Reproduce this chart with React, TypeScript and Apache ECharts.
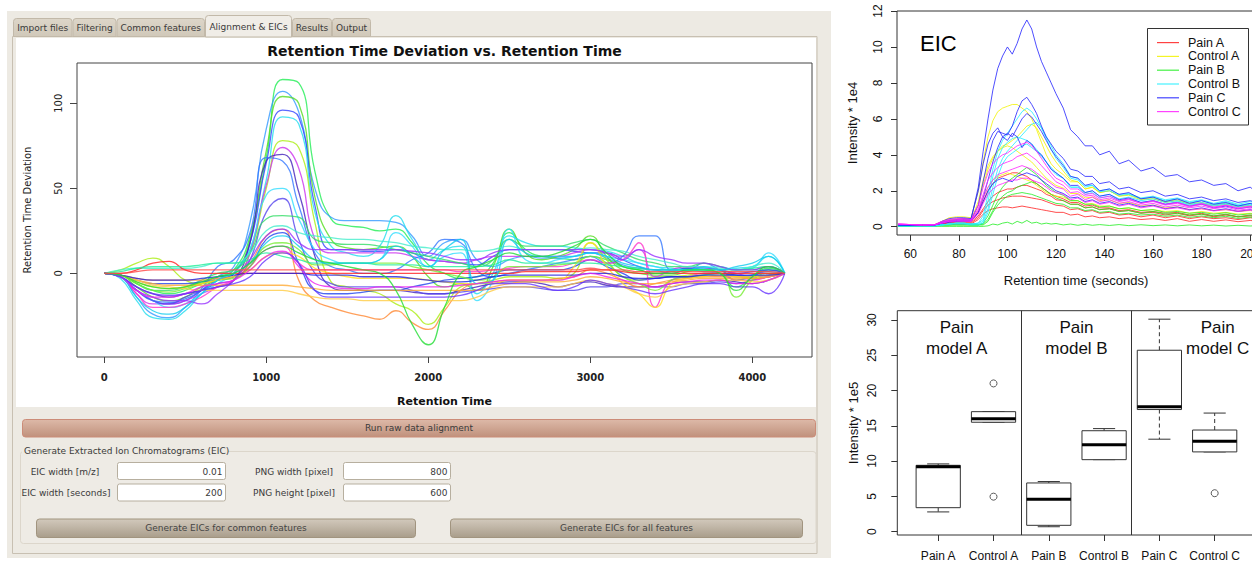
import React, { useEffect, useRef } from "react";
import * as echarts from "echarts";

// ---------------- Left chart: retention time deviation ----------------
const RT_X = [0,100,200,300,400,500,600,700,800,900,1000,1100,1200,1300,1400,1500,1600,1700,1800,1900,2000,2100,2200,2300,2400,2500,2600,2700,2800,2900,3000,3100,3200,3300,3400,3500,3600,3700,3800,3900,4000,4100,4200];
const RT_X_TICKS = [0, 1000, 2000, 3000, 4000];
const RT_Y_TICKS = [0, 50, 100];

const RT_DEVIATIONS: number[][] = [
  [0,-1,-6,-10,-12,-10,-6,-2,2,22,68,114,112,60,32,28,27,25,26,18,5,0,-3,-2,6,24,14,10,9,8,10,8,4,2,0,1,3,2,0,-8,-2,3,0],
  [0,-2,-14,-24,-26,-20,-10,-2,4,30,85,107,95,50,33,31,31,31,30,22,10,18,20,8,4,8,10,9,9,10,12,9,5,3,2,0,2,1,0,-4,-2,2,0],
  [0,-1,-8,-14,-16,-14,-8,-4,0,20,72,104,100,45,20,15,14,15,16,10,-2,-8,-6,-10,4,26,12,8,10,14,22,10,2,0,-1,-1,1,3,2,-4,-1,2,0],
  [0,-2,-10,-16,-18,-16,-10,-4,0,18,65,96,92,40,14,14,13,13,14,12,8,7,6,5,10,14,14,14,14,13,12,12,8,4,2,2,3,3,2,0,1,2,0],
  [0,-3,-16,-26,-27,-22,-12,-4,2,14,55,92,88,36,16,12,10,16,34,20,8,14,16,-12,0,22,18,16,16,15,14,13,10,6,4,3,2,2,2,3,4,10,0],
  [0,2,6,9,4,-4,-6,-4,-2,12,50,78,74,30,-5,-8,-10,-12,-18,-22,-30,-20,-8,-6,-4,-2,-2,-2,-3,0,18,8,-2,-4,-2,-2,-1,0,0,-1,-3,-2,0],
  [0,-2,-12,-18,-18,-16,-12,-8,-4,12,52,74,62,20,12,12,12,12,12,10,8,7,6,8,10,10,10,10,10,12,14,12,10,14,-2,2,4,3,2,0,-2,-1,0],
  [0,-2,-8,-12,-14,-12,-10,-8,-4,18,66,70,48,10,-8,-10,-10,-10,-10,-11,-12,-12,-10,-8,-6,-5,-5,-6,-8,-6,-5,-7,-8,-8,-8,-6,-5,-5,-4,-5,-6,-4,0],
  [0,-2,-10,-16,-17,-15,-9,4,8,24,68,66,40,12,4,2,0,0,2,8,12,20,18,2,-2,0,2,4,6,8,10,6,10,22,22,2,2,6,2,-2,-1,1,0],
  [0,-2,-10,-16,-20,-18,-12,-6,0,14,46,50,32,14,8,6,6,8,24,16,4,10,12,-16,-4,26,8,6,8,10,12,10,8,6,4,2,2,3,4,2,3,12,0],
  [0,-2,-10,-16,-18,-14,-10,-6,-4,8,36,44,20,0,-6,-8,-8,-8,-8,-10,-12,-12,-11,-10,-9,-8,-8,-9,-10,-10,-8,-8,-6,-6,-8,-8,-6,-6,-5,-6,-4,-2,0],
  [0,-1,-6,-10,-10,-8,-4,0,2,12,32,34,33,20,18,17,17,16,14,12,10,8,6,4,8,20,16,16,16,18,20,16,12,8,6,4,4,6,4,2,2,4,0],
  [0,2,3,3,3,3,4,6,6,12,25,28,24,22,21,20,20,19,18,16,15,14,14,13,14,16,14,14,14,14,15,14,13,10,8,6,4,4,3,2,4,6,0],
  [0,-1,-3,-4,-4,-4,-4,-3,-2,6,22,26,-4,-16,-20,-23,-25,-27,-22,-29,-33,-22,-10,-6,-5,-4,-4,-4,-3,-2,2,0,-4,-8,-6,-4,-3,-2,-2,-2,-3,-2,0],
  [0,-1,-4,-6,-6,-6,-5,-4,-2,4,20,24,6,-10,-12,-12,-11,-10,-10,-8,-6,-4,-3,-2,0,2,2,2,2,4,8,4,0,-4,-3,-2,-2,-1,0,-1,-2,-1,0],
  [0,-2,-12,-20,-20,-18,-14,-8,-4,4,14,16,6,2,2,2,2,2,2,2,2,2,1,1,2,3,4,4,4,6,8,6,8,18,-20,-4,-2,0,0,-4,-4,-2,0],
  [0,-1,-6,-10,-11,-9,-6,-4,-3,4,16,18,14,5,5,6,6,6,6,4,2,0,-2,-4,-2,4,4,4,5,6,10,6,-2,-6,-10,-4,-2,-1,0,-14,-4,0,0],
  [0,-1,-5,-8,-9,-8,-6,-4,-2,2,10,12,10,3,0,-2,-3,-3,-3,-3,-4,-5,-6,-6,-6,-4,-4,-4,-4,4,18,4,-6,-12,-20,-6,-3,-2,-1,-2,-2,-1,0],
  [0,0,2,6,7,2,0,0,0,0,0,0,0,0,0,0,0,0,0,0,0,0,0,0,0,0,1,1,1,1,2,2,1,0,0,0,0,0,0,0,0,0,0],
  [0,-1,-4,-6,-7,-7,-7,-7,-7,-7,-7,-7,-8,-9,-10,-10,-10,-10,-10,-10,-10,-10,-10,-10,-8,-6,-5,-5,-5,-4,-2,-3,-5,-6,-6,-5,-4,-3,-3,-3,-3,-2,0],
  [0,-1,-4,-7,-8,-9,-10,-10,-10,-10,-10,-10,-12,-14,-15,-15,-16,-16,-16,-16,-16,-16,-16,-14,-10,-8,-8,-8,-8,-6,-4,-6,-8,-12,-14,-8,-6,-5,-4,-4,-5,-4,0],
  [0,1,3,4,4,4,5,6,6,8,12,10,8,6,6,6,6,5,5,5,4,4,4,4,5,8,6,6,6,6,6,5,4,3,2,2,2,2,2,2,3,4,0],
  [0,-2,-10,-14,-16,-16,-18,-12,-4,8,22,26,18,14,14,14,14,14,14,13,12,10,8,8,12,14,14,14,14,14,14,12,8,14,10,8,6,6,4,2,2,4,0],
  [0,-1,-3,-4,-4,-4,-3,-2,-1,0,0,0,0,-1,-1,-1,-2,-2,-2,-3,-4,-5,-5,-4,-2,-1,-1,-1,-1,-1,0,0,-2,-3,-3,-2,-2,-1,-1,-1,-1,-1,0],
  [0,-2,-14,-22,-24,-20,-12,-4,0,6,18,22,16,8,6,6,6,8,16,10,4,14,20,-6,-4,20,12,10,10,10,12,10,6,4,2,2,2,4,2,4,6,10,0],
  [0,-2,-10,-14,-14,-12,-8,-6,-4,2,10,13,4,-6,-8,-9,-9,-8,-8,-8,-8,-8,-7,-6,-5,-4,-4,-4,-4,-2,0,-2,-4,-6,-8,-6,-5,-4,-4,-6,-6,-4,0],
  [0,-2,-8,-12,-13,-12,-10,-8,-6,-2,8,12,6,-10,-14,-14,-14,-14,-14,-14,-14,-14,-13,-10,-6,-6,-6,-8,-10,-8,-4,-6,-8,-10,-12,-10,-8,-6,-6,-8,-8,-12,0],
  [0,-1,-5,-8,-9,-8,-5,-2,0,6,14,16,12,8,6,4,2,0,-10,-30,-42,-20,0,4,8,12,10,10,12,16,20,12,4,2,0,0,2,2,0,-10,-2,4,0],
  [0,0,1,2,2,2,2,2,2,2,2,2,2,2,2,2,2,2,2,2,2,2,2,2,2,2,2,2,2,2,3,2,2,1,1,1,1,1,1,1,1,1,0],
];
const RT_COLORS = ["#22EE55","#3399FF","#55DD22","#3344FF","#22DDEE","#AAEE11","#CC33EE","#4422BB","#3377FF","#33DDFF","#5544EE","#33DD66","#44EECC","#FF8833","#2244EE","#FF33CC","#77EE33","#FFDD22","#FF2222","#FFAA33","#FFCC44","#22EE99","#9933FF","#2222DD","#11CCEE","#EE22EE","#6633FF","#22DD33","#FF4444"];

// ---------------- EIC chart ----------------
const EIC_X = [55,60,65,70,73,76,79,82,85,88,90,92,94,96,98,100,102,104,106,108,110,112,114,116,118,120,123,126,129,132,135,138,142,146,150,155,160,165,170,175,180,185,190,195,200,205,210,215,220];
const EIC_X_TICKS = [60, 80, 100, 120, 140, 160, 180, 200];
const EIC_Y_TICKS = [0, 2, 4, 6, 8, 10, 12];
const EIC_GROUPS = ["Pain A", "Control A", "Pain B", "Control B", "Pain C", "Control C"];

const EIC_PAIN_A = [
  [0.1,0.1,0.1,0.1,0.2,0.3,0.3,0.3,0.3,0.8,1.4,2.0,2.4,2.7,2.8,2.9,3.0,3.0,2.9,2.8,2.6,2.4,2.2,2.0,1.8,1.7,1.55,1.35,1.35,1.15,1.2,1.05,1.05,0.9,0.95,0.8,0.85,0.75,0.8,0.65,0.75,0.6,0.7,0.55,0.65,0.55,0.6,0.5,0.55],
  [0.1,0.1,0.1,0.1,0.2,0.25,0.25,0.25,0.25,0.6,1.0,1.4,1.7,1.9,2.0,2.1,2.1,2.2,2.3,2.3,2.2,2.1,2.0,1.8,1.7,1.5,1.45,1.25,1.25,1.05,1.1,0.95,1.0,0.85,0.9,0.75,0.8,0.65,0.75,0.6,0.7,0.55,0.65,0.55,0.6,0.5,0.6,0.45,0.5],
  [0.1,0.1,0.1,0.1,0.15,0.2,0.2,0.2,0.2,0.5,0.9,1.2,1.4,1.5,1.6,1.65,1.7,1.7,1.7,1.65,1.6,1.55,1.5,1.4,1.3,1.2,1.15,0.95,1.0,0.85,0.9,0.75,0.8,0.65,0.7,0.55,0.65,0.5,0.6,0.45,0.55,0.45,0.5,0.4,0.5,0.4,0.45,0.35,0.4],
  [0.1,0.1,0.1,0.1,0.15,0.15,0.15,0.15,0.15,0.4,0.7,0.9,1.0,1.05,1.1,1.1,1.05,1.1,1.15,1.1,1.05,1.0,0.95,0.9,0.85,0.8,0.8,0.65,0.7,0.55,0.6,0.5,0.55,0.45,0.5,0.4,0.45,0.35,0.45,0.3,0.4,0.3,0.38,0.28,0.35,0.28,0.33,0.26,0.3],
];
const EIC_CONTROL_A = [
  [0.1,0.1,0.1,0.12,0.3,0.5,0.55,0.55,0.5,2.0,3.6,5.0,5.9,6.4,6.6,6.7,6.8,6.8,6.6,6.4,6.0,5.4,4.7,4.0,3.5,3.2,2.9,2.5,2.5,2.1,2.2,1.9,2.0,1.7,1.75,1.5,1.55,1.35,1.45,1.25,1.3,1.15,1.25,1.1,1.15,1.05,1.1,0.95,1.0],
  [0.1,0.1,0.1,0.1,0.25,0.4,0.45,0.45,0.4,1.2,2.3,3.2,3.8,4.2,4.5,4.6,4.8,5.0,5.3,5.6,5.7,5.5,5.0,4.5,4.0,3.6,3.1,2.6,2.5,2.1,2.2,1.9,2.0,1.7,1.8,1.55,1.6,1.4,1.5,1.3,1.35,1.2,1.3,1.15,1.2,1.05,1.15,1.0,1.05],
  [0.1,0.1,0.1,0.1,0.2,0.35,0.4,0.4,0.35,1.4,2.6,3.4,3.9,4.2,4.4,4.5,4.4,4.2,4.0,3.8,3.6,3.3,3.0,2.7,2.5,2.3,2.15,1.85,1.85,1.6,1.65,1.45,1.5,1.3,1.35,1.15,1.2,1.05,1.1,0.95,1.0,0.9,0.95,0.85,0.9,0.8,0.88,0.75,0.8],
  [0.1,0.1,0.1,0.1,0.2,0.3,0.3,0.3,0.3,0.9,1.6,2.2,2.6,2.8,2.9,3.0,2.9,2.8,2.7,2.6,2.5,2.3,2.1,1.9,1.8,1.7,1.65,1.45,1.45,1.25,1.3,1.15,1.15,1.0,1.05,0.9,0.95,0.85,0.9,0.75,0.85,0.75,0.8,0.7,0.75,0.65,0.72,0.65,0.68],
];
const EIC_PAIN_B = [
  [0.05,0.05,0.05,0.05,0.1,0.1,0.15,0.15,0.1,0.1,0.2,0.6,1.2,1.8,2.2,2.5,2.7,2.9,3.1,3.3,3.1,2.9,2.6,2.3,2.1,1.9,1.75,1.45,1.45,1.25,1.25,1.1,1.15,1.0,1.05,0.9,0.95,0.8,0.85,0.75,0.8,0.7,0.78,0.65,0.72,0.62,0.7,0.6,0.65],
  [0.05,0.05,0.05,0.05,0.1,0.1,0.1,0.1,0.1,0.1,0.15,0.4,0.9,1.4,1.7,1.9,2.0,2.2,2.3,2.4,2.5,2.4,2.2,2.0,1.8,1.6,1.45,1.25,1.25,1.05,1.1,0.95,1.0,0.85,0.9,0.75,0.85,0.7,0.75,0.65,0.7,0.6,0.68,0.55,0.62,0.52,0.6,0.5,0.55],
  [0.05,0.05,0.05,0.05,0.1,0.1,0.1,0.1,0.1,0.1,0.1,0.3,0.8,1.2,1.5,1.7,1.8,1.85,1.9,1.85,1.8,1.7,1.6,1.5,1.4,1.3,1.25,1.05,1.05,0.9,0.95,0.8,0.85,0.7,0.75,0.65,0.7,0.58,0.65,0.52,0.6,0.5,0.58,0.46,0.53,0.45,0.5,0.42,0.47],
  [0.02,0.02,0.02,0.02,0.02,0.02,0.02,0.02,0.02,0.02,0.02,0.05,0.15,0.1,0.2,0.25,0.15,0.3,0.2,0.35,0.2,0.25,0.15,0.2,0.15,0.18,0.1,0.15,0.08,0.14,0.08,0.12,0.07,0.12,0.06,0.11,0.06,0.1,0.05,0.1,0.05,0.09,0.04,0.08,0.04,0.08,0.04,0.07,0.04],
];
const EIC_CONTROL_B = [
  [0.05,0.05,0.05,0.05,0.1,0.15,0.2,0.2,0.15,0.2,0.6,1.8,3.2,4.2,4.8,5.2,5.6,6.0,6.4,6.6,6.4,6.0,5.5,4.9,4.3,3.8,3.3,2.7,2.6,2.2,2.3,1.95,2.0,1.75,1.8,1.55,1.65,1.45,1.55,1.35,1.45,1.25,1.4,1.2,1.3,1.15,1.25,1.1,1.2],
  [0.05,0.05,0.05,0.05,0.1,0.15,0.2,0.2,0.15,0.2,0.4,1.4,2.8,3.8,4.4,4.7,4.9,5.0,4.9,4.8,4.6,4.3,4.0,3.6,3.2,2.9,2.7,2.2,2.2,1.9,2.0,1.7,1.8,1.55,1.65,1.45,1.55,1.35,1.45,1.25,1.35,1.2,1.3,1.15,1.25,1.1,1.2,1.05,1.12],
  [0.05,0.05,0.05,0.05,0.1,0.15,0.15,0.15,0.1,0.1,0.2,0.8,1.8,2.8,3.5,3.9,4.1,4.3,4.5,4.6,4.4,4.2,3.9,3.6,3.3,3.0,2.7,2.2,2.2,1.8,1.9,1.6,1.7,1.45,1.55,1.35,1.45,1.25,1.4,1.2,1.3,1.15,1.25,1.1,1.2,1.05,1.15,1.0,1.1],
  [0.05,0.05,0.05,0.05,0.1,0.15,0.2,0.2,0.15,0.15,0.3,1.0,2.2,3.2,3.8,4.2,4.5,4.8,5.1,5.4,5.7,5.8,5.5,5.0,4.5,4.0,3.5,2.8,2.7,2.3,2.3,2.0,2.1,1.8,1.85,1.6,1.7,1.5,1.6,1.4,1.5,1.3,1.45,1.25,1.4,1.2,1.35,1.15,1.3],
];
const EIC_PAIN_C = [
  [0.12,0.1,0.08,0.1,0.25,0.35,0.4,0.45,0.4,2.2,4.2,6.0,7.6,8.8,9.5,10.0,9.6,10.2,11.0,11.5,11.0,10.0,9.2,8.6,8.0,7.4,6.6,5.4,5.0,4.5,4.5,4.0,4.2,3.5,3.7,3.1,3.3,2.8,2.9,2.5,2.6,2.3,2.4,2.0,2.2,1.7,1.9,1.6,1.8],
  [0.1,0.1,0.1,0.1,0.2,0.3,0.35,0.4,0.35,1.2,2.5,3.8,4.8,5.3,5.2,5.1,5.6,6.4,7.0,7.2,6.8,6.3,5.6,5.0,4.6,4.2,3.8,3.2,3.1,2.8,2.8,2.4,2.5,2.1,2.2,1.9,2.0,1.7,1.8,1.55,1.65,1.45,1.55,1.35,1.45,1.25,1.4,1.2,1.3],
  [0.1,0.1,0.1,0.1,0.3,0.45,0.5,0.5,0.45,2.0,3.5,4.6,5.2,5.5,5.0,4.8,5.2,5.0,4.4,4.8,4.6,4.2,4.0,3.6,3.2,3.0,2.7,2.3,2.3,1.9,2.0,1.7,1.8,1.5,1.6,1.35,1.45,1.25,1.35,1.15,1.25,1.05,1.15,1.0,1.1,0.95,1.05,0.9,1.0],
  [0.1,0.1,0.1,0.1,0.2,0.3,0.3,0.35,0.3,0.8,1.6,2.6,3.6,4.4,5.0,5.2,5.0,5.5,6.0,6.3,6.1,5.7,5.3,4.8,4.3,3.9,3.4,2.8,2.7,2.3,2.4,2.0,2.1,1.8,1.9,1.55,1.65,1.4,1.55,1.3,1.45,1.25,1.35,1.15,1.3,1.1,1.25,1.05,1.15],
  [0.1,0.1,0.1,0.1,0.2,0.25,0.3,0.3,0.3,0.8,1.4,2.0,2.4,2.6,2.7,2.6,2.5,2.8,2.9,3.0,2.9,2.8,2.6,2.4,2.2,2.0,1.85,1.6,1.65,1.4,1.5,1.3,1.4,1.2,1.3,1.1,1.2,1.0,1.1,0.95,1.05,0.9,1.0,0.85,0.95,0.8,0.92,0.8,0.85],
];
const EIC_CONTROL_C = [
  [0.15,0.12,0.1,0.12,0.3,0.4,0.45,0.45,0.4,1.2,2.2,3.0,3.5,3.8,4.0,4.1,4.3,4.5,4.6,4.7,4.5,4.2,3.8,3.4,3.0,2.7,2.5,2.1,2.1,1.8,1.85,1.6,1.7,1.45,1.55,1.3,1.45,1.25,1.35,1.15,1.3,1.1,1.2,1.05,1.15,1.0,1.1,0.95,1.05],
  [0.15,0.12,0.1,0.12,0.25,0.35,0.4,0.4,0.35,1.0,1.8,2.6,3.0,3.3,3.5,3.6,3.7,3.9,4.0,4.1,3.9,3.7,3.4,3.1,2.8,2.5,2.3,1.9,1.95,1.7,1.75,1.5,1.6,1.4,1.5,1.3,1.4,1.2,1.3,1.1,1.25,1.05,1.2,1.0,1.1,0.95,1.05,0.92,1.0],
  [0.15,0.12,0.1,0.1,0.2,0.3,0.35,0.35,0.3,0.9,1.6,2.2,2.6,2.9,3.0,3.1,3.2,3.3,3.4,3.3,3.2,3.0,2.8,2.6,2.4,2.2,2.1,1.7,1.8,1.5,1.65,1.4,1.5,1.3,1.4,1.2,1.3,1.1,1.2,1.05,1.15,1.0,1.1,0.92,1.0,0.88,0.95,0.85,0.9],
  [0.15,0.12,0.1,0.1,0.2,0.3,0.3,0.3,0.3,0.7,1.3,1.8,2.1,2.3,2.4,2.5,2.6,2.6,2.7,2.7,2.6,2.5,2.4,2.2,2.0,1.9,1.8,1.5,1.6,1.35,1.45,1.25,1.35,1.15,1.25,1.05,1.15,0.98,1.05,0.92,1.0,0.88,0.95,0.85,0.92,0.82,0.9,0.78,0.85],
];
const EIC_DATA = [EIC_PAIN_A, EIC_CONTROL_A, EIC_PAIN_B, EIC_CONTROL_B, EIC_PAIN_C, EIC_CONTROL_C];
const EIC_COLORS = ["#FF2020", "#F2F200", "#22EE22", "#22EEFF", "#2222FF", "#FF22FF"];

// ---------------- Boxplot ----------------
const BOX_CATS = ["Pain A", "Control A", "Pain B", "Control B", "Pain C", "Control C"];
const BOX_POS = [1, 2, 3, 4, 5, 6];
// [lower whisker, Q1, median, Q3, upper whisker]
const BOX_STATS = [
  [2.8, 3.4, 9.2, 9.4, 9.6],
  [15.5, 15.5, 16.0, 17.0, 17.0],
  [0.7, 0.9, 4.6, 6.9, 7.1],
  [10.2, 10.2, 12.3, 14.3, 14.6],
  [13.1, 17.3, 17.7, 25.7, 30.1],
  [11.3, 11.3, 12.8, 14.4, 16.8],
];
const BOX_OUTLIERS = [[2, 21.0], [2, 4.96], [6, 5.45]];
const BOX_Y_TICKS = [0, 5, 10, 15, 20, 25, 30];
const BOX_SEPARATORS = [2.5, 4.5];
const BOX_GROUP_LABELS = ["Pain\nmodel A", "Pain\nmodel B", "Pain\nmodel C"];

// ---------------- GUI texts ----------------
const TAB_LABELS = ["Import files", "Filtering", "Common features", "Alignment & EICs", "Results", "Output"];

const GUI_FONT = "DejaVu Sans";
const R_FONT = "Liberation Sans";

function txt(x: number, y: number, text: string, o: any = {}) {
  const align = o.align || "left";
  return {
    type: "text",
    x,
    y,
    rotation: o.rot || 0,
    silent: true,
    z: o.z ?? 20,
    style: {
      text,
      fill: o.fill || "#333",
      fontSize: o.size || 9,
      fontFamily: o.family || GUI_FONT,
      fontWeight: o.weight || "normal",
      lineHeight: o.lh,
      align,
      verticalAlign: "middle",
      textAlign: align,
      textVerticalAlign: "middle",
    },
  };
}

function rect(x: number, y: number, w: number, h: number, style: any, z = -5, r: any = 0) {
  return { type: "rect", silent: true, z, shape: { x, y, width: w, height: h, r }, style };
}

function grad(a: string, b: string) {
  return new echarts.graphic.LinearGradient(0, 0, 0, 1, [
    { offset: 0, color: a },
    { offset: 1, color: b },
  ]);
}

export default function App() {
  const ref = useRef<HTMLDivElement>(null);

  useEffect(() => {
    if (!ref.current) return;
    const chart = echarts.init(ref.current, undefined, { renderer: "svg" });

    const tabGeom = [[13.5, 72], [73, 116], [117, 204.5], [205.5, 291.5], [292.5, 331.5], [332.5, 370.5]];
    const selectedTab = 3;
    const graphics: any[] = [];

    // window
    graphics.push(rect(7, 11, 824, 547, { fill: "#EDEAE3" }, -10));
    graphics.push(rect(12.5, 36.5, 804.5, 517, { fill: "#EDEAE3", stroke: "#C8C0B2", lineWidth: 1 }, -9));
    graphics.push(rect(16, 38, 800, 369, { fill: "#FFFFFF" }, -8));
    TAB_LABELS.forEach((label, i) => {
      const [a, b] = tabGeom[i];
      const sel = i === selectedTab;
      graphics.push(
        rect(a, sel ? 15.5 : 18.5, b - a, sel ? 21.5 : 18, {
          fill: sel ? "#F0EDE7" : grad("#DDD6C9", "#D0C8B9"),
          stroke: "#C2B9A9",
          lineWidth: 1,
        }, sel ? -6 : -7, [3, 3, 0, 0])
      );
      graphics.push(txt((a + b) / 2, sel ? 26.5 : 28.3, label, { align: "center", fill: "#3A3A3A" }));
    });

    // run button
    graphics.push(rect(22.5, 419.5, 793, 17.5, { fill: grad("#DDB9A8", "#C0917C"), stroke: "#CC8C78", lineWidth: 1 }, -5, 3));
    graphics.push(txt(419, 428.3, "Run raw data alignment", { align: "center", fill: "#3A3A3A" }));

    // group box
    graphics.push(rect(20.5, 451.5, 795.5, 92, { fill: "#EEEBE5", stroke: "#DCD6CB", lineWidth: 1 }, -6, 3));
    graphics.push(rect(22, 446, 206, 10, { fill: "#EDEAE3" }, -5));
    graphics.push(txt(24, 451, "Generate Extracted Ion Chromatograms (EIC)", { fill: "#3A3A3A" }));

    graphics.push(txt(65, 471.5, "EIC width [m/z]", { align: "center", fill: "#3A3A3A" }));
    graphics.push(txt(66, 492.5, "EIC width [seconds]", { align: "center", fill: "#3A3A3A" }));
    graphics.push(txt(294, 471.5, "PNG width [pixel]", { align: "center", fill: "#3A3A3A" }));
    graphics.push(txt(294, 492.5, "PNG height [pixel]", { align: "center", fill: "#3A3A3A" }));
    const inputStyle = { fill: "#FFFFFF", stroke: "#B7AF9F", lineWidth: 1 };
    graphics.push(rect(117.5, 462.5, 108, 17, inputStyle, -4, 2));
    graphics.push(rect(117.5, 484, 108, 17, inputStyle, -4, 2));
    graphics.push(rect(343.5, 462.5, 107, 17, inputStyle, -4, 2));
    graphics.push(rect(343.5, 484, 107, 17, inputStyle, -4, 2));
    graphics.push(txt(222.5, 471.5, "0.01", { align: "right", fill: "#3A3A3A" }));
    graphics.push(txt(222.5, 492.5, "200", { align: "right", fill: "#3A3A3A" }));
    graphics.push(txt(447.5, 471.5, "800", { align: "right", fill: "#3A3A3A" }));
    graphics.push(txt(447.5, 492.5, "600", { align: "right", fill: "#3A3A3A" }));

    const btnStyle = { fill: grad("#D2C9BC", "#A99D8B"), stroke: "#A1947F", lineWidth: 1 };
    graphics.push(rect(36.5, 519, 379, 18.5, btnStyle, -4, 3));
    graphics.push(rect(450.5, 519, 352, 18.5, btnStyle, -4, 3));
    graphics.push(txt(226, 528.3, "Generate EICs for common features", { align: "center", fill: "#444" }));
    graphics.push(txt(626.5, 528.3, "Generate EICs for all features", { align: "center", fill: "#444" }));

    // left plot titles
    graphics.push(txt(444.5, 50.5, "Retention Time Deviation vs. Retention Time", { align: "center", size: 14, weight: "bold", fill: "#111" }));
    graphics.push(txt(444.5, 401, "Retention Time", { align: "center", size: 11, weight: "bold", fill: "#111" }));
    graphics.push(txt(27, 210, "Retention Time Deviation", { align: "center", size: 10, fill: "#222", rot: Math.PI / 2 }));

    // EIC texts and legend
    graphics.push(txt(920, 43.5, "EIC", { size: 22, family: R_FONT, fill: "#000" }));
    graphics.push(txt(852.5, 123, "Intensity * 1e4", { align: "center", size: 13, family: R_FONT, fill: "#111", rot: Math.PI / 2 }));
    graphics.push(txt(1076, 280, "Retention time (seconds)", { align: "center", size: 13, family: R_FONT, fill: "#111" }));
    graphics.push(rect(1147.5, 28.5, 101, 96.5, { fill: "#FFFFFF", stroke: "#333", lineWidth: 1 }, 15));
    EIC_GROUPS.forEach((g, i) => {
      const y = 42.6 + i * 13.8;
      graphics.push({ type: "line", silent: true, z: 16, shape: { x1: 1157, y1: y, x2: 1179, y2: y }, style: { stroke: EIC_COLORS[i], lineWidth: 1.2, opacity: 0.85 } });
      graphics.push(txt(1188, y, g, { size: 12.5, family: R_FONT, fill: "#111", z: 16 }));
    });

    // Boxplot texts
    graphics.push(txt(853, 423, "Intensity * 1e5", { align: "center", size: 13, family: R_FONT, fill: "#111", rot: Math.PI / 2 }));
    const groupX = [956.7, 1076.5, 1217.7];
    BOX_GROUP_LABELS.forEach((t, i) => {
      graphics.push(txt(groupX[i], 337.5, t, { align: "center", size: 17, lh: 21, family: R_FONT, fill: "#111" }));
    });

    const leftSeries = RT_DEVIATIONS.map((vals, i) => ({
      type: "line",
      name: "Sample " + (i + 1),
      xAxisIndex: 0,
      yAxisIndex: 0,
      data: RT_X.map((x, k) => [x, vals[k]]),
      showSymbol: false,
      smooth: true,
      silent: true,
      lineStyle: { width: 1.3, color: RT_COLORS[i % RT_COLORS.length], opacity: 0.8 },
      itemStyle: { color: RT_COLORS[i % RT_COLORS.length] },
    }));

    const eicSeries: any[] = [];
    EIC_DATA.forEach((group, gi) => {
      group.forEach((vals) => {
        eicSeries.push({
          type: "line",
          name: EIC_GROUPS[gi],
          xAxisIndex: 1,
          yAxisIndex: 1,
          data: EIC_X.map((x, k) => [x, vals[k]]),
          showSymbol: false,
          silent: true,
          lineStyle: { width: 1, color: EIC_COLORS[gi], opacity: 0.8 },
          itemStyle: { color: EIC_COLORS[gi] },
        });
      });
    });

    const boxSeries = {
      type: "custom",
      name: "Boxplot",
      xAxisIndex: 2,
      yAxisIndex: 2,
      silent: true,
      data: BOX_STATS.map((s, i) => [BOX_POS[i], ...s]),
      encode: { x: 0, y: [1, 2, 3, 4, 5] },
      renderItem: (_p: any, api: any) => {
        const x = api.value(0);
        const lo = api.value(1), q1 = api.value(2), md = api.value(3), q3 = api.value(4), hi = api.value(5);
        const c = (xx: number, yy: number) => api.coord([xx, yy]);
        const stroke = "#333";
        const children: any[] = [];
        const seg = (x1: number, y1: number, x2: number, y2: number, style: any) => {
          const a = c(x1, y1), b = c(x2, y2);
          children.push({ type: "line", shape: { x1: a[0], y1: a[1], x2: b[0], y2: b[1] }, style });
        };
        if (hi > q3) seg(x, q3, x, hi, { stroke, lineWidth: 1, lineDash: [4, 3] });
        if (lo < q1) seg(x, q1, x, lo, { stroke, lineWidth: 1, lineDash: [4, 3] });
        seg(x - 0.2, hi, x + 0.2, hi, { stroke, lineWidth: 1 });
        seg(x - 0.2, lo, x + 0.2, lo, { stroke, lineWidth: 1 });
        const tl = c(x - 0.4, q3), br = c(x + 0.4, q1);
        children.push({ type: "rect", shape: { x: tl[0], y: tl[1], width: br[0] - tl[0], height: br[1] - tl[1] }, style: { fill: "#FFFFFF", stroke, lineWidth: 1 } });
        seg(x - 0.4, md, x + 0.4, md, { stroke: "#000", lineWidth: 3 });
        return { type: "group", children };
      },
    };

    const outlierSeries = {
      type: "scatter",
      name: "Outliers",
      xAxisIndex: 2,
      yAxisIndex: 2,
      silent: true,
      data: BOX_OUTLIERS,
      symbol: "circle",
      symbolSize: 7,
      itemStyle: { color: "rgba(255,255,255,0)", borderColor: "#333", borderWidth: 1 },
      markLine: {
        silent: true,
        symbol: ["none", "none"],
        label: { show: false },
        lineStyle: { color: "#333", type: "solid", width: 1 },
        data: BOX_SEPARATORS.map((v) => ({ xAxis: v })),
      },
    };

    const tickLabelR = { fontFamily: R_FONT, fontSize: 12, color: "#111" };
    const noLine = { show: false, onZero: false };

    chart.setOption({
      animation: false,
      backgroundColor: "#FFFFFF",
      grid: [
        { left: 77, top: 63, width: 735, height: 294, show: true, borderColor: "#444", borderWidth: 1, backgroundColor: "transparent", outerBoundsMode: "none", containLabel: false },
        { left: 897, top: 11, width: 400, height: 224, show: true, borderColor: "#333", borderWidth: 1, backgroundColor: "transparent", outerBoundsMode: "none", containLabel: false },
        { left: 897.3, top: 310.7, width: 358.3, height: 224.3, show: true, borderColor: "#333", borderWidth: 1, backgroundColor: "transparent", outerBoundsMode: "none", containLabel: false },
      ],
      xAxis: [
        {
          type: "value", gridIndex: 0, min: -168, max: 4368,
          axisLine: noLine, splitLine: { show: false },
          axisTick: { show: true, customValues: RT_X_TICKS, length: 6, lineStyle: { color: "#444" } },
          axisLabel: { customValues: RT_X_TICKS, fontFamily: GUI_FONT, fontSize: 10, fontWeight: "bold", color: "#222", margin: 15, formatter: (v: number) => String(v) },
        },
        {
          type: "value", gridIndex: 1, min: 54.5, max: 219.3,
          axisLine: noLine, splitLine: { show: false },
          axisTick: { show: true, customValues: EIC_X_TICKS, length: 6, lineStyle: { color: "#333" } },
          axisLabel: { customValues: EIC_X_TICKS, ...tickLabelR, margin: 13, formatter: (v: number) => String(v) },
        },
        {
          type: "value", gridIndex: 2, min: 0.26, max: 6.74,
          axisLine: noLine, splitLine: { show: false },
          axisTick: { show: true, customValues: BOX_POS, length: 6, lineStyle: { color: "#333" } },
          axisLabel: { customValues: BOX_POS, ...tickLabelR, margin: 15, formatter: (v: number) => BOX_CATS[Math.round(v) - 1] || "" },
        },
      ],
      yAxis: [
        {
          type: "value", gridIndex: 0, min: -49.2, max: 123.7,
          axisLine: noLine, splitLine: { show: false },
          axisTick: { show: true, customValues: RT_Y_TICKS, length: 7, lineStyle: { color: "#444" } },
          axisLabel: { customValues: RT_Y_TICKS, rotate: 90, fontFamily: GUI_FONT, fontSize: 10, color: "#222", margin: 14 },
        },
        {
          type: "value", gridIndex: 1, min: -0.46, max: 12,
          axisLine: noLine, splitLine: { show: false },
          axisTick: { show: true, customValues: EIC_Y_TICKS, length: 6, lineStyle: { color: "#333" } },
          axisLabel: { customValues: EIC_Y_TICKS, rotate: 90, ...tickLabelR, margin: 13 },
        },
        {
          type: "value", gridIndex: 2, min: -0.47, max: 31.3,
          axisLine: noLine, splitLine: { show: false },
          axisTick: { show: true, customValues: BOX_Y_TICKS, length: 6, lineStyle: { color: "#333" } },
          axisLabel: { customValues: BOX_Y_TICKS, rotate: 90, ...tickLabelR, margin: 19 },
        },
      ],
      graphic: { elements: graphics },
      series: [...leftSeries, ...eicSeries, boxSeries, outlierSeries],
    });

    return () => chart.dispose();
  }, []);

  return (
    <div
      ref={ref}
      style={{ position: "absolute", left: 0, top: 0, width: 1252, height: 563, background: "#fff" }}
    />
  );
}
